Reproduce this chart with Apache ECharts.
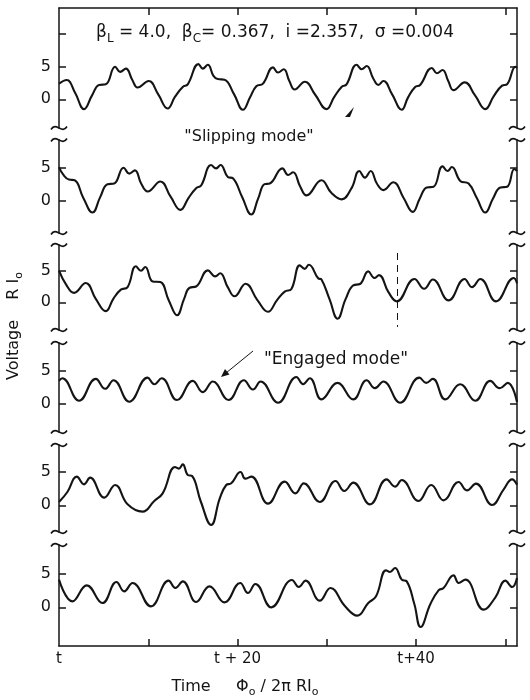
<!DOCTYPE html>
<html>
<head>
<meta charset="utf-8">
<script src="https://cdn.jsdelivr.net/npm/echarts@6/dist/echarts.min.js"></script>
<style>html,body{margin:0;padding:0;background:#fff;}#c{width:530px;height:700px;}</style>
</head>
<body>
<div id="c"></div>
<script>
// ---- data (time in units of Φo/2πRIo from t, voltage in RIo) ----
const time1 = [0,0.86,1.8,2.81,3.7,4.49,5.24,6.29,6.85,7.49,8.2,8.8,10.04,11.1,12.17,13.0,13.86,14.42,15.62,16.1,16.67,17.3,17.79,18.54,19.6,20.6,21.4,22.1,22.85,23.97,24.53,25.17,25.8,26.4,27.53,28.7,29.96,30.8,31.65,32.21,33.33,33.9,34.46,35.2,35.77,36.33,37.3,38.39,39.1,39.89,40.45,41.76,42.32,42.96,43.6,44.19,45.43,46.6,47.75,48.7,49.63,50.19,51.12,51.3];
const volt1 = [2.4,2.95,1.0,-1.5,0.6,2.2,2.3,5.0,4.2,4.7,3.0,1.8,2.8,0.8,-1.4,0.4,1.9,2.3,5.4,4.7,5.3,3.6,3.1,3.0,0.8,-1.6,0.3,2.0,2.4,4.9,4.1,4.6,2.8,1.5,2.7,0.7,-1.5,0.3,1.9,2.3,5.3,4.6,5.1,3.2,2.2,2.8,0.8,-1.6,0.3,1.9,2.2,4.8,4.0,4.5,2.8,1.4,2.6,0.6,-1.5,0.5,2.1,2.3,5.0,4.8];

const time2 = [0,0.5,1.12,1.76,2.7,3.75,4.6,5.43,6.18,7.23,7.87,8.5,9.2,9.93,11.35,12.5,13.6,14.5,15.36,15.92,17.04,17.6,18.09,18.91,19.48,20.5,21.54,22.3,23.03,23.6,25.02,25.66,26.22,27.0,27.72,29.4,30.5,31.65,32.77,33.63,34.27,34.91,35.6,36.33,37.45,38.6,39.63,40.4,41.2,41.95,42.96,43.52,44.0,44.94,45.88,46.8,47.75,48.6,49.44,50.19,51.0,51.3];
const volt2 = [5.1,3.9,3.2,3.1,0.5,-1.8,0.5,2.5,2.6,5.0,4.1,4.6,2.6,1.4,2.9,0.6,-1.4,0.4,1.9,2.3,5.4,4.9,5.4,3.6,3.4,0.6,-2.1,0.3,2.5,2.6,4.9,3.9,4.3,2.2,0.8,3.1,1.2,0.2,1.9,4.5,3.5,4.5,2.6,1.6,2.8,0.4,-1.7,0.3,2.0,2.1,5.2,4.5,5.1,3.0,2.6,0.4,-1.8,0.3,2.0,2.1,4.8,4.5];

const time3 = [0,0.8,1.69,3.0,4.1,5.24,6.1,6.93,7.68,8.61,9.18,9.66,10.49,11.35,12.3,13.22,14.0,14.61,15.36,16.67,17.49,18.05,18.9,19.66,20.9,22.2,23.41,24.4,25.28,26.03,26.97,27.53,27.98,29.03,29.4,30.3,31.2,32.1,32.96,33.71,34.64,35.32,35.84,36.9,37.83,39.81,40.9,41.87,43.63,45.43,46.25,47.19,48.95,50.94,51.3];
const volt3 = [5.0,2.8,1.5,3.05,0.6,-1.4,0.6,2.0,2.4,5.7,5.0,5.6,3.3,3.2,0.3,-2.05,0.5,2.3,2.5,5.05,4.1,4.6,2.4,0.95,2.95,0.4,-1.5,0.3,1.7,2.1,5.85,5.3,5.95,3.8,3.6,0.5,-2.6,0.5,2.7,2.9,4.9,3.85,4.3,1.6,0.15,3.7,2.15,3.6,0.3,3.7,2.4,3.7,0.15,3.85,3.0];

const time4 = [0,0.37,2.25,4.12,5.17,6.1,7.87,9.93,10.67,11.5,13.22,14.98,16.1,17.23,18.99,20.71,21.72,22.58,24.53,26.59,27.34,28.09,29.4,31.2,32.96,34.46,35.39,36.33,38.2,40.37,41.12,41.87,43.26,44.94,46.63,48.31,49.36,50.26,51.3];
const volt4 = [3.5,3.9,0.5,3.8,2.3,3.6,0.35,4.0,3.0,3.9,0.6,3.5,1.8,3.4,0.6,3.6,2.2,3.4,0.2,4.1,3.0,3.9,0.7,3.2,0.7,3.6,2.4,3.4,0.2,4.0,3.2,3.8,0.7,3.0,0.5,3.5,2.4,3.2,0.3];

const time5 = [0,0.94,1.99,2.81,3.48,5.06,6.29,7.68,9.36,10.67,11.61,13.0,13.41,13.86,14.42,14.91,15.9,17.04,18.0,18.73,19.29,20.34,20.86,21.54,23.41,25.28,26.48,27.42,29.21,30.97,31.95,32.96,34.83,36.7,37.64,38.39,40.26,41.69,43.07,44.76,45.69,46.7,48.5,49.81,50.75,51.3];
const volt5 = [0.5,2.0,4.3,3.15,4.15,1.15,3.05,0.15,-0.95,0.65,1.8,5.75,5.5,6.15,4.55,4.4,0.5,-2.95,1.0,3.05,3.3,5.0,4.0,4.3,0.25,3.55,1.8,3.3,0.5,3.65,2.15,3.4,0.15,3.9,2.8,3.8,0.65,3.05,0.75,3.5,2.25,3.25,0.05,2.4,3.9,3.1];

const time6 = [0,1.5,3.11,4.87,6.44,7.3,8.24,10.3,12.28,13.03,13.86,15.36,16.85,18.54,20.3,21.16,21.99,23.78,26.1,26.85,27.6,29.21,30.41,32.02,33.41,34.64,35.51,36.63,37.08,37.64,38.39,38.95,39.8,40.5,41.6,42.51,43.07,44.19,44.76,45.51,47.57,48.88,50.0,50.75,51.3];
const volt6 = [4.15,0.9,3.3,0.65,3.8,2.4,3.65,0.15,4.0,2.9,3.9,0.8,3.15,0.75,3.65,2.15,3.5,0.0,4.1,3.05,4.0,1.0,2.9,0.2,-1.25,0.65,1.65,5.55,5.3,5.9,4.15,3.9,0.5,-2.95,0.5,2.55,2.9,4.8,3.65,4.15,-0.35,1.5,4.0,3.05,4.4];

const yTickValues = [0, 5];
const yTickValuesTop = [0, 5, 10];
const xTickValues = [10, 20, 30, 40, 50];
const xLabelValues = [0, 20, 40];
const xLabelTexts = ['t', 't + 20', 't+40'];
const dashedMarkTime = 37.9;

const times = [time1, time2, time3, time4, time5, time6];
const volts = [volt1, volt2, volt3, volt4, volt5, volt6];

// ---- layout ----
const FONT = 'DejaVu Sans';
const INK = '#141414';
const LEFT = 59, RIGHTX = 517;
const panels = [
  {top: 8,   height: 120, min: -4.4, max: 14.0},
  {top: 140, height: 93,  min: -4.9, max: 9.2},
  {top: 245, height: 85,  min: -4.38, max: 9.07},
  {top: 343, height: 89,  min: -4.24, max: 9.24},
  {top: 445, height: 87,  min: -4.0, max: 9.05},
  {top: 545, height: 101, min: -5.8, max: 9.35}
];
const XMAX = 51.3;

const grid = [], xAxis = [], yAxis = [], series = [];
panels.forEach((p, i) => {
  grid.push({left: LEFT, right: 530 - RIGHTX, top: p.top, height: p.height});
  const isTop = i === 0, isBottom = i === panels.length - 1;
  xAxis.push({
    type: 'value', gridIndex: i, min: 0, max: XMAX,
    position: isTop ? 'top' : 'bottom',
    show: isTop || isBottom,
    axisLine: {show: true, onZero: false, lineStyle: {color: INK, width: 1.5}},
    axisTick: {show: true, inside: true, length: 7, lineStyle: {color: INK, width: 1.5}, customValues: xTickValues},
    axisLabel: isBottom ? {
      show: true, customValues: xLabelValues, color: INK, fontFamily: FONT, fontSize: 15, margin: 6,
      formatter: v => xLabelTexts[xLabelValues.indexOf(v)] || ''
    } : {show: false},
    splitLine: {show: false}
  });
  const ticks = isTop ? yTickValuesTop : yTickValues;
  yAxis.push({
    type: 'value', gridIndex: i, min: p.min, max: p.max, position: 'left',
    axisLine: {show: true, onZero: false, lineStyle: {color: INK, width: 1.5}},
    axisTick: {show: true, inside: true, length: 7, lineStyle: {color: INK, width: 1.5}, customValues: ticks},
    axisLabel: {show: true, customValues: yTickValues, color: INK, fontFamily: FONT, fontSize: 16, margin: 8},
    splitLine: {show: false}
  });
  yAxis.push({
    type: 'value', gridIndex: i, min: p.min, max: p.max, position: 'right',
    axisLine: {show: true, onZero: false, lineStyle: {color: INK, width: 1.5}},
    axisTick: {show: true, inside: true, length: 7, lineStyle: {color: INK, width: 1.5}, customValues: ticks},
    axisLabel: {show: false},
    splitLine: {show: false}
  });
  const s = {
    type: 'line', xAxisIndex: i, yAxisIndex: 2 * i,
    data: times[i].map((t, k) => [t, volts[i][k]]),
    smooth: 0.45, symbol: 'none', silent: true,
    lineStyle: {color: INK, width: 2.1}
  };
  if (i === 2) {
    s.markLine = {
      silent: true, symbol: 'none', label: {show: false},
      lineStyle: {color: INK, width: 1, type: [7, 5]},
      data: [[{coord: [dashedMarkTime, 7.8]}, {coord: [dashedMarkTime, -3.9]}]]
    };
  }
  series.push(s);
});

// break marks (≈) at each gap, on both side axes
const graphic = [];
function tilde(x, y) {
  return {
    type: 'bezierCurve', z: 100,
    shape: {x1: x - 8, y1: y + 1.5, cpx1: x - 3, cpy1: y - 7, cpx2: x + 3, cpy2: y + 7, x2: x + 8, y2: y - 1.5},
    style: {stroke: INK, lineWidth: 1.6, fill: null}
  };
}
for (let i = 0; i < panels.length - 1; i++) {
  const yb = panels[i].top + panels[i].height;
  const yt = panels[i + 1].top;
  [LEFT, RIGHTX].forEach(x => {
    graphic.push(tilde(x, yb));
    graphic.push(tilde(x, yt));
  });
}

const sub = {fontSize: 12, lineHeight: 13, verticalAlign: 'bottom', fontFamily: FONT, fill: INK};
const norm = {fontSize: 17, lineHeight: 23, fontFamily: FONT, fill: INK};
graphic.push({
  type: 'text', z: 100, x: 275, y: 33,
  style: {
    text: '{n|β}{s|L}{n| = 4.0,  β}{s|C}{n|= 0.367,  i =2.357,  σ =0.004}',
    rich: {n: norm, s: sub},
    align: 'center', verticalAlign: 'middle'
  }
});
graphic.push({
  type: 'text', z: 100, x: 249, y: 137,
  style: {text: '"Slipping mode"', font: '16px "DejaVu Sans"', fill: INK, align: 'center', verticalAlign: 'middle'}
});
graphic.push({
  type: 'text', z: 100, x: 336, y: 360,
  style: {text: '"Engaged mode"', font: '17px "DejaVu Sans"', fill: INK, align: 'center', verticalAlign: 'middle'}
});
// arrow to engaged mode
graphic.push({
  type: 'line', z: 100,
  shape: {x1: 253, y1: 351, x2: 226, y2: 373},
  style: {stroke: INK, lineWidth: 1}
});
graphic.push({
  type: 'polygon', z: 100,
  shape: {points: [[221, 377], [229.5, 374.5], [225, 369]]},
  style: {fill: INK}
});
// small stray arrowhead in top panel
graphic.push({
  type: 'polygon', z: 100,
  shape: {points: [[345, 117], [354, 107], [350, 117]]},
  style: {fill: INK}
});
// axis names
const nameRich = {
  n: {fontSize: 16, lineHeight: 21, fontFamily: FONT, fill: INK},
  s: {fontSize: 11, lineHeight: 12, verticalAlign: 'bottom', fontFamily: FONT, fill: INK}
};
graphic.push({
  type: 'text', z: 100, x: 245, y: 687,
  style: {
    text: '{n|Time     Φ}{s|o}{n| / 2π RI}{s|o}',
    rich: nameRich, align: 'center', verticalAlign: 'middle'
  }
});
graphic.push({
  type: 'text', z: 100, x: 14, y: 326, rotation: Math.PI / 2,
  style: {
    text: '{n|Voltage    R I}{s|o}',
    rich: nameRich, align: 'center', verticalAlign: 'middle'
  }
});

const chart = echarts.init(document.getElementById('c'), null, {renderer: 'canvas'});
chart.setOption({
  animation: false,
  backgroundColor: '#fff',
  grid, xAxis, yAxis, series, graphic
});
</script>
</body>
</html>
